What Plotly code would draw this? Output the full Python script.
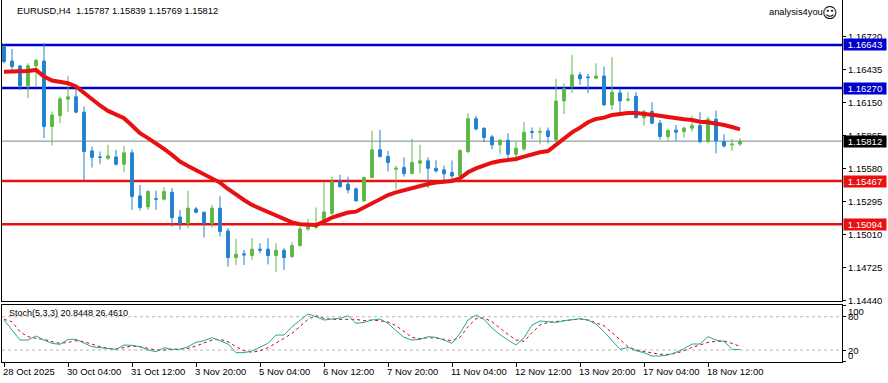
import plotly.graph_objects as go

# ---------------- data ----------------
bars = list(range(93))

opens = [1.16628, 1.16504, 1.16461, 1.16290, 1.16464, 1.16504, 1.15938, 1.16032, 1.16174, 1.16195,
         1.16062, 1.15728, 1.15676, 1.15665, 1.15676, 1.15613, 1.15711, 1.15339, 1.15244, 1.15316,
         1.15311, 1.15371, 1.15157, 1.15102, 1.15227, 1.15198, 1.15102, 1.15233, 1.15037, 1.14807,
         1.14839, 1.14824, 1.14879, 1.14879, 1.14824, 1.14870, 1.14815, 1.14910, 1.15054, 1.15066,
         1.15105, 1.15189, 1.15463, 1.15440, 1.15400, 1.15296, 1.15498, 1.15737, 1.15679, 1.15570,
         1.15584, 1.15532, 1.15622, 1.15642, 1.15578, 1.15564, 1.15541, 1.15512, 1.15722, 1.16005,
         1.15924, 1.15849, 1.15780, 1.15820, 1.15699, 1.15745, 1.15895, 1.15889, 1.15901, 1.15823,
         1.16159, 1.16284, 1.16384, 1.16367, 1.16356, 1.16375, 1.16125, 1.16229, 1.16166, 1.16199,
         1.16015, 1.16068, 1.15967, 1.15852, 1.15907, 1.15895, 1.15924, 1.15947, 1.15809, 1.16002,
         1.15809, 1.15780, 1.15787]

highs = [1.16648, 1.16608, 1.16470, 1.16484, 1.16522, 1.16657, 1.16068, 1.16197, 1.16375, 1.16269,
         1.16111, 1.15765, 1.15722, 1.15780, 1.15737, 1.15771, 1.15742, 1.15434, 1.15391, 1.15383,
         1.15414, 1.15406, 1.15218, 1.15383, 1.15244, 1.15203, 1.15261, 1.15336, 1.15060, 1.14968,
         1.14873, 1.14974, 1.14931, 1.14974, 1.14931, 1.14887, 1.14939, 1.15074, 1.15141, 1.15239,
         1.15452, 1.15506, 1.15521, 1.15506, 1.15411, 1.15506, 1.15901, 1.15910, 1.15728, 1.15599,
         1.15671, 1.15832, 1.15780, 1.15671, 1.15648, 1.15601, 1.15645, 1.15742, 1.16053, 1.16030,
         1.15930, 1.15866, 1.15829, 1.15881, 1.15809, 1.15976, 1.15930, 1.15930, 1.15930, 1.16350,
         1.16312, 1.16556, 1.16407, 1.16395, 1.16484, 1.16456, 1.16536, 1.16264, 1.16235, 1.16235,
         1.16082, 1.16148, 1.15996, 1.15918, 1.15953, 1.15938, 1.16032, 1.16062, 1.16025, 1.16076,
         1.15872, 1.15832, 1.15839]

lows = [1.16484, 1.16427, 1.16254, 1.16183, 1.16284, 1.15838, 1.15774, 1.15967, 1.16062, 1.16053,
        1.15477, 1.15584, 1.15613, 1.15648, 1.15601, 1.15544, 1.15218, 1.15213, 1.15218, 1.15218,
        1.15299, 1.15074, 1.15046, 1.15060, 1.15189, 1.14980, 1.15066, 1.14987, 1.14729, 1.14743,
        1.14743, 1.14787, 1.14844, 1.14748, 1.14680, 1.14700, 1.14801, 1.14901, 1.15037, 1.15054,
        1.15100, 1.15174, 1.15411, 1.15362, 1.15290, 1.15290, 1.15491, 1.15671, 1.15550, 1.15400,
        1.15506, 1.15527, 1.15535, 1.15406, 1.15541, 1.15477, 1.15472, 1.15506, 1.15707, 1.15904,
        1.15803, 1.15742, 1.15699, 1.15665, 1.15636, 1.15728, 1.15832, 1.15786, 1.15794, 1.15803,
        1.16045, 1.16226, 1.16298, 1.16226, 1.16350, 1.16120, 1.16082, 1.16062, 1.16153, 1.16010,
        1.15947, 1.15958, 1.15823, 1.15815, 1.15815, 1.15843, 1.15895, 1.15794, 1.15794, 1.15707,
        1.15756, 1.15728, 1.15769]

closes = [1.16499, 1.16456, 1.16290, 1.16464, 1.16510, 1.15938, 1.16038, 1.16177, 1.16195, 1.16062,
          1.15722, 1.15671, 1.15671, 1.15684, 1.15613, 1.15711, 1.15334, 1.15239, 1.15377, 1.15311,
          1.15377, 1.15152, 1.15102, 1.15233, 1.15198, 1.15102, 1.15233, 1.15031, 1.14807, 1.14836,
          1.14830, 1.14879, 1.14870, 1.14824, 1.14870, 1.14807, 1.14910, 1.15054, 1.15074, 1.15088,
          1.15201, 1.15463, 1.15419, 1.15391, 1.15296, 1.15498, 1.15737, 1.15679, 1.15627, 1.15578,
          1.15532, 1.15627, 1.15642, 1.15578, 1.15555, 1.15530, 1.15512, 1.15731, 1.16005, 1.15918,
          1.15843, 1.15780, 1.15820, 1.15699, 1.15751, 1.15889, 1.15889, 1.15895, 1.15852, 1.16159,
          1.16264, 1.16384, 1.16350, 1.16361, 1.16375, 1.16125, 1.16235, 1.16159, 1.16174, 1.16015,
          1.16068, 1.15967, 1.15852, 1.15904, 1.15889, 1.15924, 1.15947, 1.15809, 1.16002, 1.15815,
          1.15771, 1.15786, 1.15812]

ma_values = [1.16412, 1.16412, 1.16412, 1.16418, 1.16427, 1.16369, 1.16335, 1.16326, 1.16312, 1.16284,
             1.16226, 1.16168, 1.16120, 1.16073, 1.16038, 1.16010, 1.15947, 1.15880, 1.15838, 1.15794,
             1.15745, 1.15693, 1.15636, 1.15598, 1.15564, 1.15521, 1.15491, 1.15454, 1.15399, 1.15347,
             1.15304, 1.15261, 1.15232, 1.15203, 1.15174, 1.15146, 1.15111, 1.15094, 1.15088, 1.15088,
             1.15117, 1.15152, 1.15174, 1.15195, 1.15203, 1.15238, 1.15275, 1.15304, 1.15347, 1.15370,
             1.15390, 1.15410, 1.15428, 1.15442, 1.15454, 1.15462, 1.15468, 1.15491, 1.15543, 1.15577,
             1.15606, 1.15626, 1.15641, 1.15649, 1.15658, 1.15678, 1.15698, 1.15716, 1.15727, 1.15779,
             1.15837, 1.15888, 1.15929, 1.15975, 1.16004, 1.16015, 1.16038, 1.16050, 1.16055, 1.16055,
             1.16050, 1.16044, 1.16032, 1.16021, 1.16009, 1.16001, 1.15995, 1.15980, 1.15975, 1.15966,
             1.15952, 1.15934, 1.15914]

stoch_k = [74.0, 56.0, 38.0, 38.0, 45.2, 38.0, 32.0, 30.2, 39.2, 39.2,
           33.2, 26.0, 24.2, 23.0, 21.2, 29.0, 28.4, 26.0, 20.0, 17.0,
           24.2, 21.2, 21.2, 26.0, 33.8, 36.8, 42.2, 36.8, 30.8, 15.2,
           15.2, 18.2, 24.8, 32.0, 47.0, 47.0, 62.0, 74.0, 84.9, 80.1,
           74.0, 75.8, 77.1, 81.9, 68.0, 69.8, 74.0, 75.8, 68.0, 54.8,
           42.8, 38.0, 39.2, 44.0, 42.8, 38.0, 32.0, 50.0, 74.0, 83.1,
           75.2, 59.6, 47.6, 38.0, 29.0, 42.2, 65.0, 72.2, 71.0, 69.8,
           72.8, 75.2, 76.4, 74.0, 66.8, 53.0, 38.0, 21.2, 24.8, 18.8,
           15.2, 9.2, 9.2, 11.0, 15.8, 22.4, 30.8, 30.8, 44.0, 38.0,
           35.6, 21.2, 20.8448]

stoch_d = [75.2, 71.0, 53.0, 44.0, 41.0, 39.2, 35.0, 32.0, 33.8, 36.8,
           35.0, 30.2, 26.0, 23.0, 21.8, 24.2, 27.2, 26.0, 23.0, 20.0,
           20.0, 21.2, 21.8, 23.0, 27.2, 33.2, 38.0, 39.2, 35.0, 26.0,
           18.8, 15.8, 18.8, 24.2, 32.0, 41.0, 50.0, 62.0, 75.2, 81.9,
           77.1, 75.2, 75.2, 76.4, 75.2, 72.8, 74.0, 72.8, 70.4, 63.8,
           53.0, 42.8, 40.4, 42.2, 41.6, 39.2, 36.8, 42.8, 62.0, 76.4,
           77.6, 71.0, 59.0, 48.2, 38.0, 35.6, 51.2, 65.0, 69.8, 71.0,
           72.2, 74.0, 75.8, 74.0, 69.2, 63.8, 51.2, 38.0, 26.0, 20.0,
           17.0, 14.0, 12.2, 12.2, 14.0, 18.8, 24.8, 29.0, 33.8, 35.6,
           36.2, 32.0, 26.461]

tick_bars = [0, 8, 16, 24, 32, 40, 48, 56, 64, 72, 80, 88]
tick_labels = ["28 Oct 2025", "30 Oct 04:00", "31 Oct 12:00", "3 Nov 20:00", "5 Nov 04:00",
               "6 Nov 12:00", "7 Nov 20:00", "11 Nov 04:00", "12 Nov 12:00", "13 Nov 20:00",
               "17 Nov 04:00", "18 Nov 12:00"]

price_ticks = [1.14440, 1.14725, 1.15010, 1.15295, 1.15580, 1.15865, 1.16150, 1.16435, 1.16720]
resistance_levels = [1.16643, 1.16270]
support_levels = [1.15467, 1.15094]
bid_price = 1.15812
stoch_levels = [20, 80]
stoch_ticks = [0, 20, 80, 100]

header_text = "EURUSD,H4  1.15787 1.15839 1.15769 1.15812"
stoch_text = "Stoch(5,3,3) 20.8448 26.4610"
brand_text = "analysis4you"

# ---------------- styles ----------------
UP = "#5cb843"
DOWN = "#1f82cc"
BLUE = "#0000cd"
RED = "#e81010"
FONT = "Liberation Sans, Arial, sans-serif"
FS = 9.5

fig = go.Figure()

fig.add_trace(go.Candlestick(
    x=bars, open=opens, high=highs, low=lows, close=closes,
    increasing=dict(line=dict(color=UP, width=1), fillcolor=UP),
    decreasing=dict(line=dict(color=DOWN, width=1), fillcolor=DOWN),
    whiskerwidth=0, xaxis="x", yaxis="y", showlegend=False, hoverinfo="skip"))

fig.add_trace(go.Scatter(x=bars, y=ma_values, mode="lines",
                         line=dict(color=RED, width=4), xaxis="x", yaxis="y",
                         showlegend=False, hoverinfo="skip"))

fig.add_trace(go.Scatter(x=bars, y=stoch_d, mode="lines",
                         line=dict(color="#e00000", width=1, dash="3px,3px"),
                         xaxis="x2", yaxis="y2", showlegend=False, hoverinfo="skip"))
fig.add_trace(go.Scatter(x=bars, y=stoch_k, mode="lines",
                         line=dict(color="#20a89e", width=1),
                         xaxis="x2", yaxis="y2", showlegend=False, hoverinfo="skip"))

shapes = []
for lv in resistance_levels:
    shapes.append(dict(type="line", xref="x domain", yref="y", x0=0, x1=1, y0=lv, y1=lv,
                       line=dict(color=BLUE, width=2.5), layer="below"))
for lv in support_levels:
    shapes.append(dict(type="line", xref="x domain", yref="y", x0=0, x1=1, y0=lv, y1=lv,
                       line=dict(color=RED, width=2.5), layer="below"))
shapes.append(dict(type="line", xref="x domain", yref="y", x0=0, x1=1, y0=bid_price, y1=bid_price,
                   line=dict(color="#7a8a90", width=1), layer="below"))
for lv in stoch_levels:
    shapes.append(dict(type="line", xref="x2 domain", yref="y2", x0=0, x1=1, y0=lv, y1=lv,
                       line=dict(color="#b8b8b8", width=1, dash="3px,3px"), layer="below"))

annotations = []
# right-side price scale labels
for v in price_ticks:
    annotations.append(dict(xref="paper", yref="y", x=1, y=v, xanchor="left", yanchor="middle",
                            xshift=4, text=f"{v:.5f}", showarrow=False,
                            font=dict(color="black", size=FS, family=FONT)))
stoch_label_shift = {0: 6, 20: 0, 80: 0, 100: -6}
for v in stoch_ticks:
    annotations.append(dict(xref="paper", yref="y2", x=1, y=v, xanchor="left", yanchor="middle",
                            xshift=4, yshift=stoch_label_shift[v], text=str(v), showarrow=False,
                            font=dict(color="black", size=FS, family=FONT)))
# bottom time labels (left aligned at tick)
for b, t in zip(tick_bars, tick_labels):
    annotations.append(dict(xref="x2", yref="paper", x=b, y=0, xanchor="left", yanchor="top",
                            xshift=-3, yshift=-2, text=t, showarrow=False,
                            font=dict(color="black", size=FS, family=FONT)))

def price_box(val, bg):
    return dict(xref="paper", yref="y", x=1, y=val, xanchor="left", yanchor="middle",
                xshift=1, text=f"{val:.5f}", showarrow=False, bgcolor=bg,
                font=dict(color="white", size=FS, family=FONT), width=42, height=11,
                borderpad=0)
for lv in resistance_levels:
    annotations.append(price_box(lv, BLUE))
for lv in support_levels:
    annotations.append(price_box(lv, RED))
annotations.append(price_box(bid_price, "black"))

annotations.append(dict(xref="paper", yref="paper", x=0, y=1, xanchor="left", yanchor="top",
                        xshift=13, yshift=-4, text=header_text, showarrow=False,
                        font=dict(color="black", size=9.3, family=FONT)))
annotations.append(dict(xref="paper", yref="paper", x=1, y=1, xanchor="right", yanchor="top",
                        xshift=-17, yshift=-5, text=brand_text, showarrow=False,
                        font=dict(color="black", size=9.3, family=FONT)))
annotations.append(dict(xref="paper", yref="paper", x=1, y=1, xanchor="right", yanchor="top",
                        xshift=-2, yshift=-2, text="\u263a", showarrow=False,
                        font=dict(color="black", size=15, family="DejaVu Sans")))
annotations.append(dict(xref="x2 domain", yref="y2 domain", x=0, y=1, xanchor="left", yanchor="top",
                        xshift=5, yshift=-1, text=stoch_text, showarrow=False,
                        font=dict(color="black", size=9, family=FONT)))

xrange = [-0.25, 104.75]
main_bottom = (362 - 301) / 362
stoch_top = (362 - 305) / 362

fig.update_layout(
    width=888, height=383,
    margin=dict(l=2, r=46, t=0, b=21),
    paper_bgcolor="white", plot_bgcolor="white",
    font=dict(family=FONT, size=FS, color="black"),
    boxgap=0.5,
    shapes=shapes, annotations=annotations,
    xaxis=dict(domain=[0, 1], anchor="y", range=xrange, showgrid=False, zeroline=False,
               showticklabels=False, ticks="", showline=True, linecolor="black", linewidth=1,
               rangeslider=dict(visible=False), fixedrange=True),
    yaxis=dict(domain=[main_bottom, 1], anchor="x", side="right",
               range=[1.144315, 1.17031], showgrid=False, zeroline=False,
               tickvals=price_ticks, showticklabels=False,
               ticks="outside", ticklen=3, tickcolor="black",
               showline=True, mirror=True, linecolor="black", linewidth=1),
    xaxis2=dict(domain=[0, 1], anchor="y2", range=xrange, showgrid=False, zeroline=False,
                tickvals=tick_bars, showticklabels=False, ticks="outside", ticklen=4,
                tickcolor="black",
                showline=True, mirror=True, linecolor="black", linewidth=1),
    yaxis2=dict(domain=[0, stoch_top], anchor="x2", side="right", range=[-1.6, 101.1],
                showgrid=False, zeroline=False, tickvals=stoch_ticks, showticklabels=False,
                ticks="outside", ticklen=3,
                tickcolor="black", showline=True, mirror=True, linecolor="black", linewidth=1),
)

fig.write_html("out.html", config={"displayModeBar": False, "staticPlot": True},
               post_script="document.body.style.margin='0px';document.body.style.padding='0px';")
